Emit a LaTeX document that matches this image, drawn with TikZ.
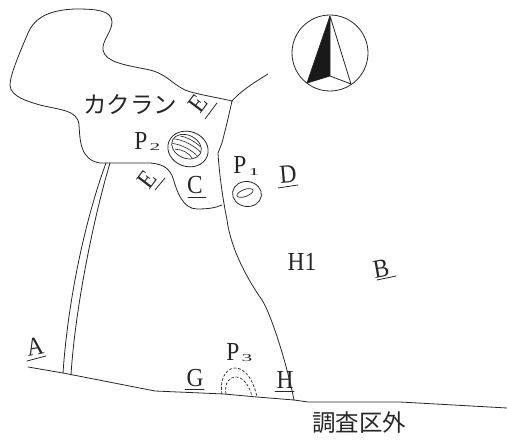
\documentclass[tikz,border=0pt]{standalone}
\usepackage{fontspec}
\usetikzlibrary{shapes.geometric}
\setmainfont{Liberation Serif}[FakeStretch=0.9]
\newfontfamily\jpfont{Noto Sans CJK JP}[Scale=1.0]
\tikzset{
  line/.style={draw=black!85, line width=0.8pt, line join=round, line cap=round},
  lab/.style={inner sep=0pt, font=\fontsize{26}{26}\selectfont, text=black!85},
  sub/.style={inner sep=0pt, font=\fontsize{14}{14}\selectfont, text=black!85, xscale=1.7, yscale=.75},
  jp/.style={inner sep=0pt, font=\jpfont\fontsize{23.5}{24}\selectfont, text=black!85}
}
\begin{document}
\begin{tikzpicture}[x=1pt,y=-1pt]
\useasboundingbox (0,0) rectangle (507,441);
\coordinate (j1) at (232,101);
\coordinate (j2) at (222,205);
\coordinate (j3) at (294,400);
% outline
\draw[line] (j1) .. controls (210,96) and (195,94) .. (185,90)
 .. controls (172,84) and (165,72) .. (145,69)
 .. controls (125,65) and (105,62) .. (103,50)
 .. controls (102,40) and (112,32) .. (112,22)
 .. controls (112,10) and (95,9) .. (75,9)
 .. controls (50,10) and (35,17) .. (28,33)
 .. controls (20,52) and (10,75) .. (10,85)
 .. controls (10,97) and (30,102) .. (40,105)
 .. controls (60,110) and (78,110) .. (79,125)
 .. controls (80,140) and (80,160) .. (100,163)
 -- (150,163)
 .. controls (165,164) and (170,170) .. (173,178)
 .. controls (177,192) and (183,209) .. (197,209)
 .. controls (208,209) and (215,208) .. (j2);
\draw[line] (j1) -- (227,123) -- (222,143) -- (218,153)
 .. controls (219,170) and (222,195) .. (227,220)
 .. controls (231,250) and (248,280) .. (262,300)
 .. controls (270,312) and (286,360) .. (j3);
\coordinate (br) at (268,74);
\draw[line] (j1) .. controls (240,92) and (250,85) .. (br);
% double line
\coordinate (d1) at (106,163); \coordinate (d2) at (63,373);
\coordinate (d3) at (110,163); \coordinate (d4) at (71,375);
\draw[line] (d1) .. controls (85,220) and (68,300) .. (d2);
\draw[line] (d3) .. controls (93,220) and (75,310) .. (d4);
% bottom line
\draw[line] (28,367) -- (63,373) -- (155,391) -- (224,394) -- (257,397) -- (j3) -- (308,402) -- (400,402) -- (507,408);
% compass
\node[circle, draw=black!85, line width=.8pt, minimum size=76pt, inner sep=0pt] (cmp) at (330,53) {};
\coordinate (nt) at (330,16); \coordinate (nl) at (307,83); \coordinate (nc) at (330,76); \coordinate (nr) at (351,84);
\fill[black!90] (nt) -- (nl) -- (nc) -- cycle;
\draw[line] (nt) -- (nl) -- (nc) -- (nr) -- cycle (nc) -- (nt);
% P2
\node[ellipse, draw=black!85, line width=.8pt, minimum width=41pt, minimum height=35pt, inner sep=0pt, rotate=-20] (p2) at (188,149) {};
\begin{scope}[shift={(187,148)}, rotate=-25]
\draw[line, line width=.7pt] (-1,-1) ellipse (15.5 and 11.5);
\draw[line, line width=.6pt] (-11,-8) .. controls (-5,-10) and (5,-9) .. (11,-7);
\draw[line, line width=.6pt] (-15,-3) .. controls (-6,-6) and (6,-5) .. (14,-2);
\draw[line, line width=.6pt] (-15,2) .. controls (-6,-1) and (6,0) .. (13,3);
\draw[line, line width=.6pt] (-10,6) .. controls (-4,3) and (5,4) .. (9,7);
\end{scope}
% P1
\node[ellipse, draw=black!85, line width=.8pt, minimum width=29pt, minimum height=25pt, inner sep=0pt, rotate=-8] (p1) at (247,194) {};
\node[ellipse, draw=black!85, line width=.7pt, minimum width=17pt, minimum height=7pt, inner sep=0pt, rotate=20] (p1i) at (245,193) {};
% P3
\draw[line, dash pattern=on 2.5pt off 2pt, line width=.7pt] (222,394) .. controls (219,375) and (229,368) .. (235,368) .. controls (246,368) and (254,382) .. (257,397);
\draw[line, dash pattern=on 2.5pt off 2pt, line width=.7pt] (226,394) .. controls (224,382) and (230,377) .. (236,377) .. controls (243,377) and (249,385) .. (252,396);
% labels
\node[lab] (tp2) at (141,141) {P};
\node[sub] (sp2) at (155,147) {2};
\node[lab] (tp1) at (240,165) {P};
\node[sub] (sp1) at (254,172) {1};
\node[lab] (tp3) at (233,352) {P};
\node[sub] (sp3) at (247,358) {3};
\node[jp] (kk) at (130,105) {カクラン};
\node[lab] (h1) at (302,262) {H1};
\node[jp] (out) at (359,423) {調査区外};
\node[lab, rotate=10] (la) at (35,347) {A};
\draw[line] (27,361) -- (46,356);
\node[lab] (lg) at (195,378) {G};
\draw[line] (185,389) -- (204,389);
\node[lab] (lh) at (285,380) {H};
\draw[line] (275,391) -- (294,391);
\node[lab, rotate=5] (ld) at (288,174) {D};
\draw[line] (278,188) -- (298,185);
\node[lab] (lc) at (195,185) {C};
\draw[line] (188,197) -- (206,197);
\node[lab, rotate=10] (lb) at (381,269) {B};
\draw[line] (377,280) -- (396,276);
\node[lab, rotate=53] (le1) at (198,104) {E};
\draw[line] (205,119) -- (217,103);
\node[lab, rotate=53] (le2) at (147,180) {E};
\draw[line] (155,190) -- (165,178);
\end{tikzpicture}
\end{document}
